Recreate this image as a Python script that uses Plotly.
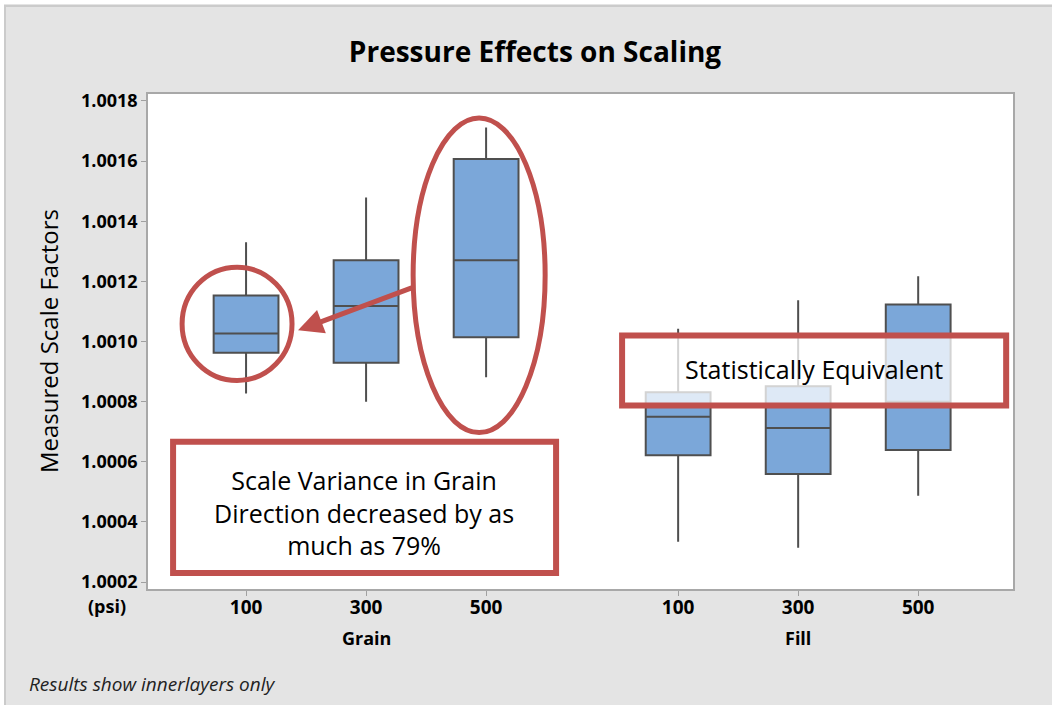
import plotly.graph_objects as go

# ---- data ----
groups = ["Grain", "Grain", "Grain", "Fill", "Fill", "Fill"]
pressures = ["100", "300", "500", "100", "300", "500"]
positions = [0, 1, 2, 3.6, 4.6, 5.6]
upper_whisker = [1.00133, 1.001479, 1.001712, 1.001042, 1.001137, 1.001217]
q3_values = [1.001153, 1.00127, 1.001607, 1.000831, 1.000851, 1.001123]
medians = [1.001027, 1.001118, 1.00127, 1.00075, 1.000712, 1.0008]
q1_values = [1.000963, 1.000929, 1.001014, 1.000622, 1.000559, 1.000639]
lower_whisker = [1.000827, 1.0008, 1.000881, 1.000334, 1.000314, 1.000487]
y_ticks = [1.0002, 1.0004, 1.0006, 1.0008, 1.0010, 1.0012, 1.0014, 1.0016, 1.0018]
group_names = ["Grain", "Fill"]
group_centers = [1, 4.6]

RED = "#c0504d"
FONT = "Open Sans"

fig = go.Figure()
fig.add_trace(go.Box(
    x=positions, q1=q1_values, median=medians, q3=q3_values,
    lowerfence=lower_whisker, upperfence=upper_whisker,
    width=0.54, whiskerwidth=0,
    fillcolor="#7ba7d9",
    line=dict(color="#4f4f4f", width=2),
    boxpoints=False, showlegend=False, hoverinfo="skip",
))

shapes = [
    dict(type="circle", xref="x", yref="y", x0=-0.533, x1=0.383, y0=1.00087, y1=1.001247,
         line=dict(color=RED, width=5), layer="above"),
    dict(type="circle", xref="x", yref="y", x0=1.392, x1=2.492, y0=1.000697, y1=1.001743,
         line=dict(color=RED, width=5), layer="above"),
    dict(type="rect", xref="x", yref="y", x0=-0.608, x1=2.583, y0=1.00023, y1=1.000667,
         line=dict(color=RED, width=6), fillcolor="white", layer="above"),
    dict(type="rect", xref="x", yref="y", x0=3.133, x1=6.333, y0=1.000787, y1=1.00102,
         line=dict(color=RED, width=6), fillcolor="rgba(255,255,255,0.75)", layer="above"),
    # outer border lines (left and top)
    dict(type="line", xref="paper", yref="paper", x0=-0.1653, x1=-0.1653, y0=-0.3, y1=1.18,
         line=dict(color="#cbcbcb", width=2), layer="below"),
    dict(type="line", xref="paper", yref="paper", x0=-0.17, x1=1.1, y0=1.178, y1=1.178,
         line=dict(color="#cbcbcb", width=2), layer="below"),
]

annotations = [
    dict(text="Scale Variance in Grain<br>Direction decreased by as<br>much as 79%",
         xref="x", yref="y", x=0.983, y=1.00043, showarrow=False,
         font=dict(family=FONT, size=25, color="black"), align="center"),
    dict(text="Statistically Equivalent", xref="x", yref="y", x=4.733, y=1.000907,
         showarrow=False, font=dict(family=FONT, size=25, color="black")),
    dict(text="", xref="x", yref="y", axref="x", ayref="y",
         x=0.433, y=1.001037, ax=1.392, ay=1.00118,
         showarrow=True, arrowhead=2, arrowsize=1.0, arrowwidth=5, arrowcolor=RED),
    dict(text="Measured Scale Factors", xref="paper", yref="paper", x=-0.1155, y=0.501,
         textangle=-90, showarrow=False, font=dict(family=FONT, size=24, color="black"),
         xanchor="center", yanchor="middle"),
    dict(text="<b>(psi)</b>", xref="paper", yref="paper", x=-0.0474, y=-0.0343,
         showarrow=False, font=dict(family=FONT, size=18, color="black"),
         xanchor="center", yanchor="middle"),
    dict(text="<i>Results show innerlayers only</i>", xref="paper", yref="paper",
         x=-0.1399, y=-0.192, showarrow=False, xanchor="left", yanchor="middle",
         font=dict(family=FONT, size=19, color="#222")),
]
for name, c in zip(group_names, group_centers):
    annotations.append(dict(text=f"<b>{name}</b>", xref="x", yref="paper", x=c, y=-0.099,
                            showarrow=False, font=dict(family=FONT, size=18, color="black"),
                            yanchor="middle"))

fig.update_layout(
    width=1048, height=701,
    paper_bgcolor="#e4e4e4", plot_bgcolor="white",
    margin=dict(l=144, r=39, t=90, b=116),
    title=dict(text="<b>Pressure Effects on Scaling</b>", x=0.5067, xanchor="center",
               y=0.9315, yanchor="middle",
               font=dict(family=FONT, size=28, color="black")),
    xaxis=dict(range=[-0.817, 6.39], tickvals=positions, ticktext=[f"<b>{p}</b>" for p in pressures],
               ticks="outside", ticklen=5, tickcolor="#a0a0a0", showgrid=False, zeroline=False,
               showline=True, linecolor="#a8a8a8", linewidth=1.5, mirror=True,
               ticklabelstandoff=-5,
               tickfont=dict(family=FONT, size=19, color="black")),
    yaxis=dict(range=[1.000177, 1.001823], tickvals=y_ticks,
               ticktext=[f"<b>{v:.4f}</b>" for v in y_ticks],
               ticks="outside", ticklen=5, tickcolor="#a0a0a0", showgrid=False, zeroline=False,
               showline=True, linecolor="#a8a8a8", linewidth=1.5, mirror=True,
               tickfont=dict(family=FONT, size=18, color="black")),
    shapes=shapes, annotations=annotations,
)

fig.write_html(
    "out.html",
    post_script="document.body.style.margin='4px 0 0 4px';document.body.style.overflow='hidden';",
)
